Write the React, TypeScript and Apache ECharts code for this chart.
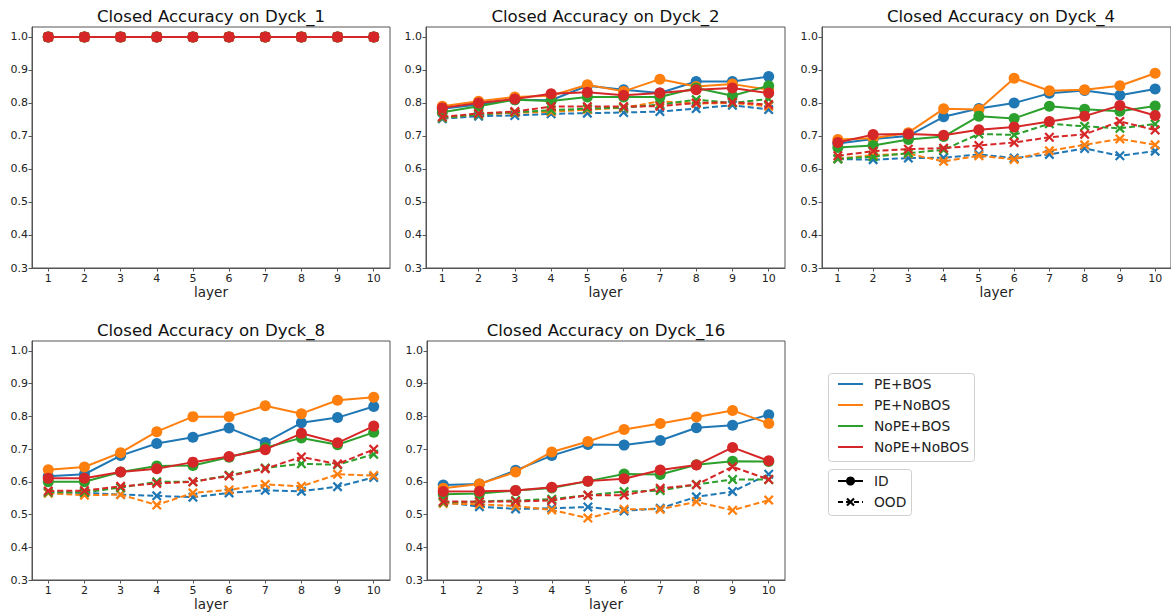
import React, { useEffect, useRef } from "react";
import * as echarts from "echarts";

const LAYERS = [1, 2, 3, 4, 5, 6, 7, 8, 9, 10];
const Y_TICKS = [0.3, 0.4, 0.5, 0.6, 0.7, 0.8, 0.9, 1.0];
const CONFIGS = ["PE+BOS", "PE+NoBOS", "NoPE+BOS", "NoPE+NoBOS"];
const COLORS = ["#1f77b4", "#ff7f0e", "#2ca02c", "#d62728"];
const STYLES = ["ID", "OOD"];
const TITLES = [
  "Closed Accuracy on Dyck_1",
  "Closed Accuracy on Dyck_2",
  "Closed Accuracy on Dyck_4",
  "Closed Accuracy on Dyck_8",
  "Closed Accuracy on Dyck_16",
];

// Dyck_1
const D1_PE_BOS_ID = [1, 1, 1, 1, 1, 1, 1, 1, 1, 1];
const D1_PE_BOS_OOD = [1, 1, 1, 1, 1, 1, 1, 1, 1, 1];
const D1_PE_NOBOS_ID = [1, 1, 1, 1, 1, 1, 1, 1, 1, 1];
const D1_PE_NOBOS_OOD = [1, 1, 1, 1, 1, 1, 1, 1, 1, 1];
const D1_NOPE_BOS_ID = [1, 1, 1, 1, 1, 1, 1, 1, 1, 1];
const D1_NOPE_BOS_OOD = [1, 1, 1, 1, 1, 1, 1, 1, 1, 1];
const D1_NOPE_NOBOS_ID = [1, 1, 1, 1, 1, 1, 1, 1, 1, 1];
const D1_NOPE_NOBOS_OOD = [1, 1, 1, 1, 1, 1, 1, 1, 1, 1];

// Dyck_2
const D2_PE_BOS_ID = [0.782, 0.795, 0.81, 0.808, 0.852, 0.84, 0.83, 0.865, 0.865, 0.88];
const D2_PE_BOS_OOD = [0.752, 0.76, 0.762, 0.767, 0.769, 0.771, 0.774, 0.783, 0.793, 0.78];
const D2_PE_NOBOS_ID = [0.79, 0.805, 0.818, 0.822, 0.855, 0.835, 0.872, 0.85, 0.857, 0.84];
const D2_PE_NOBOS_OOD = [0.755, 0.765, 0.77, 0.773, 0.78, 0.785, 0.805, 0.798, 0.8, 0.79];
const D2_NOPE_BOS_ID = [0.772, 0.79, 0.81, 0.806, 0.818, 0.818, 0.818, 0.845, 0.822, 0.852];
const D2_NOPE_BOS_OOD = [0.755, 0.765, 0.772, 0.778, 0.783, 0.786, 0.795, 0.81, 0.8, 0.812];
const D2_NOPE_NOBOS_ID = [0.785, 0.8, 0.812, 0.828, 0.832, 0.823, 0.83, 0.84, 0.845, 0.83];
const D2_NOPE_NOBOS_OOD = [0.758, 0.768, 0.774, 0.789, 0.789, 0.789, 0.79, 0.8, 0.802, 0.795];

// Dyck_4
const D4_PE_BOS_ID = [0.677, 0.691, 0.7, 0.758, 0.783, 0.8, 0.829, 0.838, 0.823, 0.842];
const D4_PE_BOS_OOD = [0.63, 0.628, 0.633, 0.634, 0.644, 0.633, 0.644, 0.662, 0.64, 0.654];
const D4_PE_NOBOS_ID = [0.689, 0.693, 0.71, 0.782, 0.78, 0.875, 0.837, 0.84, 0.852, 0.89];
const D4_PE_NOBOS_OOD = [0.631, 0.642, 0.646, 0.623, 0.64, 0.629, 0.655, 0.673, 0.691, 0.673];
const D4_NOPE_BOS_ID = [0.665, 0.671, 0.689, 0.698, 0.76, 0.753, 0.79, 0.781, 0.775, 0.791];
const D4_NOPE_BOS_OOD = [0.631, 0.637, 0.648, 0.658, 0.706, 0.703, 0.737, 0.729, 0.723, 0.736];
const D4_NOPE_NOBOS_ID = [0.68, 0.704, 0.706, 0.702, 0.719, 0.727, 0.744, 0.76, 0.792, 0.762];
const D4_NOPE_NOBOS_OOD = [0.64, 0.654, 0.66, 0.663, 0.671, 0.68, 0.696, 0.705, 0.744, 0.718];

// Dyck_8
const D8_PE_BOS_ID = [0.617, 0.623, 0.68, 0.717, 0.736, 0.764, 0.72, 0.78, 0.796, 0.83];
const D8_PE_BOS_OOD = [0.567, 0.566, 0.561, 0.557, 0.553, 0.566, 0.574, 0.571, 0.585, 0.613];
const D8_PE_NOBOS_ID = [0.637, 0.645, 0.689, 0.753, 0.799, 0.799, 0.832, 0.808, 0.849, 0.858];
const D8_PE_NOBOS_OOD = [0.565, 0.559, 0.561, 0.529, 0.566, 0.575, 0.592, 0.586, 0.623, 0.619];
const D8_NOPE_BOS_ID = [0.6, 0.6, 0.63, 0.648, 0.65, 0.675, 0.704, 0.734, 0.713, 0.751];
const D8_NOPE_BOS_OOD = [0.568, 0.568, 0.582, 0.6, 0.6, 0.62, 0.642, 0.655, 0.652, 0.684];
const D8_NOPE_NOBOS_ID = [0.611, 0.611, 0.63, 0.64, 0.66, 0.677, 0.698, 0.748, 0.719, 0.77];
const D8_NOPE_NOBOS_OOD = [0.572, 0.573, 0.586, 0.595, 0.6, 0.618, 0.64, 0.676, 0.654, 0.699];

// Dyck_16
const D16_PE_BOS_ID = [0.59, 0.593, 0.635, 0.68, 0.714, 0.712, 0.726, 0.765, 0.773, 0.805];
const D16_PE_BOS_OOD = [0.538, 0.524, 0.517, 0.519, 0.523, 0.511, 0.519, 0.554, 0.57, 0.623];
const D16_PE_NOBOS_ID = [0.58, 0.593, 0.63, 0.691, 0.723, 0.76, 0.778, 0.798, 0.818, 0.778];
const D16_PE_NOBOS_OOD = [0.534, 0.531, 0.526, 0.514, 0.489, 0.516, 0.516, 0.539, 0.513, 0.544];
const D16_NOPE_BOS_ID = [0.562, 0.564, 0.573, 0.581, 0.602, 0.624, 0.622, 0.652, 0.663, 0.662];
const D16_NOPE_BOS_OOD = [0.537, 0.54, 0.543, 0.547, 0.559, 0.57, 0.573, 0.592, 0.607, 0.607];
const D16_NOPE_NOBOS_ID = [0.57, 0.571, 0.573, 0.583, 0.602, 0.609, 0.636, 0.651, 0.705, 0.664];
const D16_NOPE_NOBOS_OOD = [0.54, 0.539, 0.54, 0.543, 0.559, 0.559, 0.58, 0.591, 0.646, 0.607];

const PANEL_DATA = [
  [[D1_PE_BOS_ID, D1_PE_BOS_OOD], [D1_PE_NOBOS_ID, D1_PE_NOBOS_OOD], [D1_NOPE_BOS_ID, D1_NOPE_BOS_OOD], [D1_NOPE_NOBOS_ID, D1_NOPE_NOBOS_OOD]],
  [[D2_PE_BOS_ID, D2_PE_BOS_OOD], [D2_PE_NOBOS_ID, D2_PE_NOBOS_OOD], [D2_NOPE_BOS_ID, D2_NOPE_BOS_OOD], [D2_NOPE_NOBOS_ID, D2_NOPE_NOBOS_OOD]],
  [[D4_PE_BOS_ID, D4_PE_BOS_OOD], [D4_PE_NOBOS_ID, D4_PE_NOBOS_OOD], [D4_NOPE_BOS_ID, D4_NOPE_BOS_OOD], [D4_NOPE_NOBOS_ID, D4_NOPE_NOBOS_OOD]],
  [[D8_PE_BOS_ID, D8_PE_BOS_OOD], [D8_PE_NOBOS_ID, D8_PE_NOBOS_OOD], [D8_NOPE_BOS_ID, D8_NOPE_BOS_OOD], [D8_NOPE_NOBOS_ID, D8_NOPE_NOBOS_OOD]],
  [[D16_PE_BOS_ID, D16_PE_BOS_OOD], [D16_PE_NOBOS_ID, D16_PE_NOBOS_OOD], [D16_NOPE_BOS_ID, D16_NOPE_BOS_OOD], [D16_NOPE_NOBOS_ID, D16_NOPE_NOBOS_OOD]],
];

const GRIDS = [
  { left: 32, top: 27, width: 358, height: 241 },
  { left: 426, top: 27, width: 359, height: 241 },
  { left: 822, top: 27, width: 358, height: 241 },
  { left: 32, top: 341, width: 358, height: 241 },
  { left: 427, top: 341, width: 358, height: 241 },
];

const X_SYMBOL =
  "path://M0,1.6 L1.6,0 L5,3.4 L8.4,0 L10,1.6 L6.6,5 L10,8.4 L8.4,10 L5,6.6 L1.6,10 L0,8.4 L3.4,5 Z";

const FONT = "DejaVu Sans";
const SPINE = "#555555";
const TEXT = "#222222";

function buildOption() {
  const grid = GRIDS.map((g) => ({
    ...g,
    show: true,
    borderColor: SPINE,
    borderWidth: 1,
    backgroundColor: "#ffffff",
    containLabel: false,
  }));
  const xAxis = GRIDS.map((_, i) => ({
    type: "value",
    gridIndex: i,
    min: 0.55,
    max: 10.45,
    name: "layer",
    nameLocation: "middle",
    nameGap: 17,
    nameTextStyle: { fontFamily: FONT, fontSize: 13.5, color: TEXT, verticalAlign: "top" },
    axisLine: { show: true, lineStyle: { color: SPINE, width: 1 } },
    axisTick: { show: true, length: 3.5, lineStyle: { color: SPINE }, customValues: LAYERS },
    axisLabel: {
      show: true,
      customValues: LAYERS,
      fontFamily: FONT,
      fontSize: 11,
      color: TEXT,
      margin: 5,
      formatter: (v: number) => String(Math.round(v)),
    },
    splitLine: { show: false },
  }));
  const yAxis = GRIDS.map((_, i) => ({
    type: "value",
    gridIndex: i,
    min: 0.3,
    max: 1.03,
    axisLine: { show: true, lineStyle: { color: SPINE, width: 1 } },
    axisTick: { show: true, length: 3.5, lineStyle: { color: SPINE }, customValues: Y_TICKS },
    axisLabel: {
      show: true,
      customValues: Y_TICKS,
      fontFamily: FONT,
      fontSize: 11,
      color: TEXT,
      margin: 4,
      formatter: (v: number) => v.toFixed(1),
    },
    splitLine: { show: false },
  }));

  const series: any[] = [];
  PANEL_DATA.forEach((panel, pi) => {
    panel.forEach((pair, ci) => {
      pair.forEach((vals, si) => {
        const ood = si === 1;
        series.push({
          type: "line",
          name: CONFIGS[ci] + " " + STYLES[si],
          xAxisIndex: pi,
          yAxisIndex: pi,
          data: LAYERS.map((l, k) => [l, vals[k]]),
          color: COLORS[ci],
          symbol: ood ? X_SYMBOL : "circle",
          symbolSize: ood ? 10 : 11,
          showSymbol: true,
          lineStyle: { color: COLORS[ci], width: 2, type: ood ? [6, 3] : "solid" },
          itemStyle: { color: COLORS[ci] },
          emphasis: { disabled: true },
          z: 2 + ci,
        });
      });
    });
  });

  const title = TITLES.map((t, i) => ({
    text: t,
    left: GRIDS[i].left + GRIDS[i].width / 2,
    top: i < 3 ? 8 : 322,
    textAlign: "center",
    padding: 0,
    textStyle: { fontFamily: FONT, fontSize: 16.6, fontWeight: "normal", color: "#111111" },
  }));

  const legendY = [384, 405, 426, 447];
  const graphic: any[] = [
    {
      type: "rect",
      shape: { x: 828.5, y: 373.5, width: 146, height: 88, r: 3 },
      style: { fill: "#ffffff", stroke: "#d0d0d0", lineWidth: 1 },
      z: 100,
    },
    {
      type: "rect",
      shape: { x: 828.5, y: 469.5, width: 83, height: 46, r: 3 },
      style: { fill: "#ffffff", stroke: "#d0d0d0", lineWidth: 1 },
      z: 100,
    },
  ];
  CONFIGS.forEach((c, i) => {
    graphic.push({
      type: "line",
      shape: { x1: 838, y1: legendY[i], x2: 863, y2: legendY[i] },
      style: { stroke: COLORS[i], lineWidth: 2 },
      z: 101,
    });
    graphic.push({
      type: "text",
      x: 874,
      y: legendY[i],
      style: { text: c, fontFamily: FONT, fontSize: 13.8, fill: TEXT, verticalAlign: "middle" },
      z: 101,
    });
  });
  // ID / OOD
  graphic.push({
    type: "line",
    shape: { x1: 838, y1: 481, x2: 863, y2: 481 },
    style: { stroke: "#000000", lineWidth: 2 },
    z: 101,
  });
  graphic.push({
    type: "circle",
    shape: { cx: 850.5, cy: 481, r: 4.5 },
    style: { fill: "#000000" },
    z: 102,
  });
  graphic.push({
    type: "text",
    x: 874,
    y: 481,
    style: { text: "ID", fontFamily: FONT, fontSize: 13.8, fill: TEXT, verticalAlign: "middle" },
    z: 101,
  });
  graphic.push({
    type: "line",
    shape: { x1: 838, y1: 502, x2: 863, y2: 502 },
    style: { stroke: "#000000", lineWidth: 2, lineDash: [5, 3] },
    z: 101,
  });
  graphic.push({
    type: "polyline",
    shape: { points: [[847, 498.5], [854, 505.5]] },
    style: { stroke: "#000000", lineWidth: 2.2 },
    z: 102,
  });
  graphic.push({
    type: "polyline",
    shape: { points: [[854, 498.5], [847, 505.5]] },
    style: { stroke: "#000000", lineWidth: 2.2 },
    z: 102,
  });
  graphic.push({
    type: "text",
    x: 874,
    y: 502,
    style: { text: "OOD", fontFamily: FONT, fontSize: 13.8, fill: TEXT, verticalAlign: "middle" },
    z: 101,
  });

  return {
    animation: false,
    backgroundColor: "#ffffff",
    textStyle: { fontFamily: FONT },
    title,
    grid,
    xAxis,
    yAxis,
    series,
    graphic,
  };
}

export default function App() {
  const ref = useRef<HTMLDivElement>(null);
  useEffect(() => {
    if (!ref.current) return;
    const chart = echarts.init(ref.current, undefined, { renderer: "svg" });
    chart.setOption(buildOption() as any);
    return () => chart.dispose();
  }, []);
  return (
    <div
      ref={ref}
      style={{ position: "fixed", left: 0, top: 0, width: 1171, height: 612, background: "#ffffff" }}
    />
  );
}
